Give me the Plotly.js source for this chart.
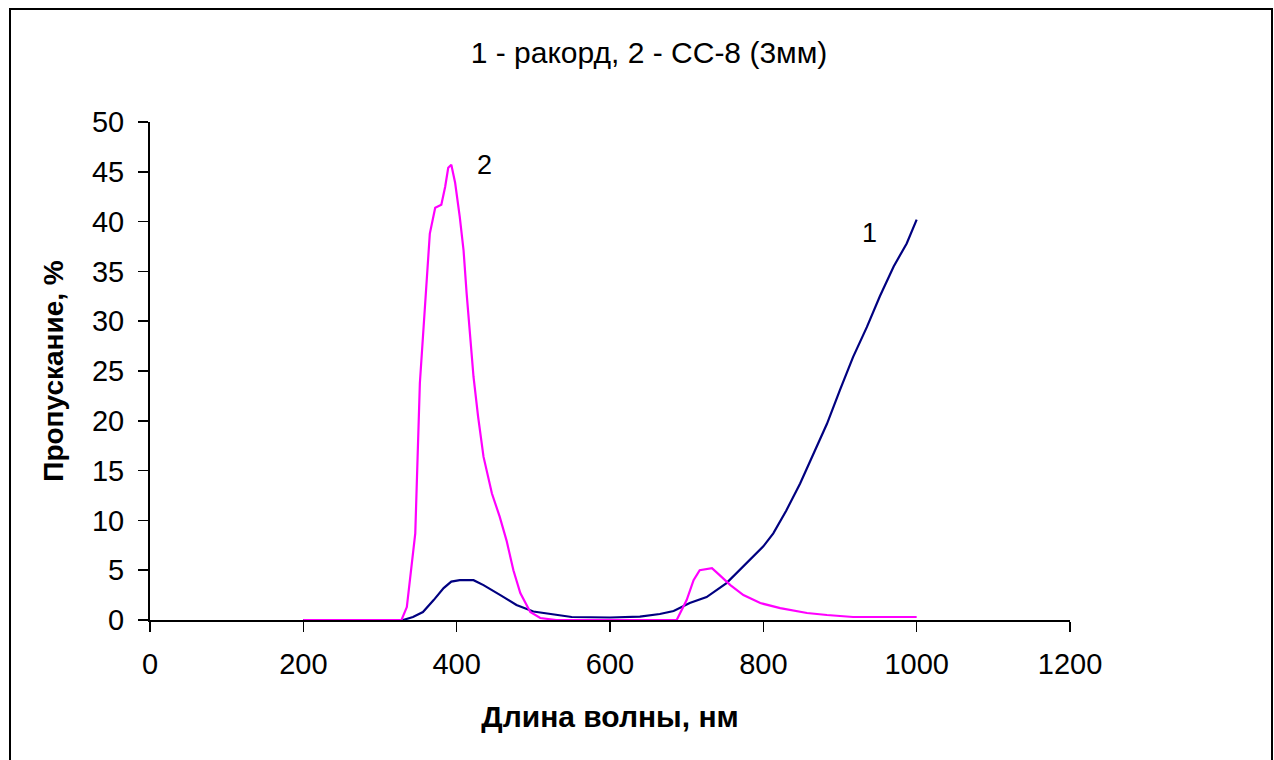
<!DOCTYPE html>
<html>
<head>
<meta charset="utf-8">
<script src="https://cdn.plot.ly/plotly-3.0.1.min.js"></script>
<style>html,body{margin:0;padding:0;background:#fff;}#chart{width:1274px;height:760px;}</style>
</head>
<body>
<div id="chart"></div>
<script>
// Series 1 — "ракорд"
const wl1 = [200, 330, 343, 356, 370, 383, 393, 404, 422, 435, 457, 478, 500, 522, 550, 600, 639, 665, 683, 704, 726, 752, 778, 800, 813, 830, 848, 865, 883, 900, 917, 935, 952, 970, 987, 1000];
const t1  = [0, 0, 0.3, 0.8, 2.0, 3.2, 3.85, 4.0, 4.0, 3.5, 2.5, 1.5, 0.85, 0.6, 0.3, 0.25, 0.33, 0.6, 0.9, 1.7, 2.3, 3.7, 5.7, 7.4, 8.7, 11.0, 13.7, 16.7, 19.7, 23.1, 26.4, 29.4, 32.5, 35.5, 37.8, 40.2];
// Series 2 — "СС-8 (3мм)"
const wl2 = [200, 328, 335, 346, 352, 359, 365, 372, 380, 385, 389, 393, 398, 404, 409, 413, 417, 422, 428, 435, 446, 456, 465, 474, 483, 496, 509, 530, 600, 687, 700, 709, 717, 733, 743, 757, 774, 796, 822, 857, 883, 917, 1000];
const t2  = [0, 0, 1.3, 8.7, 23.8, 32, 38.8, 41.4, 41.7, 43.5, 45.4, 45.7, 43.9, 40.5, 37.1, 32.8, 28.8, 24.4, 20.4, 16.4, 12.7, 10.4, 8.0, 5.0, 2.7, 0.8, 0.2, 0, 0, 0, 2.0, 4.0, 5.0, 5.2, 4.5, 3.5, 2.5, 1.7, 1.2, 0.7, 0.5, 0.3, 0.3];
// Curve labels
const labelText = ["1", "2"];
const labelX = [939, 436];
const labelY = [38.9, 45.7];
// Axis ticks
const xTicks = [0, 200, 400, 600, 800, 1000, 1200];
const yTicks = [0, 5, 10, 15, 20, 25, 30, 35, 40, 45, 50];

const font = "Liberation Sans, Arial, sans-serif";

const traces = [
  {x: wl1, y: t1, type: "scatter", mode: "lines", line: {color: "#000080", width: 2.2}, name: "1"},
  {x: wl2, y: t2, type: "scatter", mode: "lines", line: {color: "#FF00FF", width: 2.2}, name: "2"}
];

const annotations = labelText.map((t, i) => ({
  x: labelX[i], y: labelY[i], xref: "x", yref: "y", text: t, showarrow: false,
  font: {family: font, size: 27, color: "#000"}
}));

const layout = {
  width: 1274, height: 760,
  margin: {l: 150, r: 204, t: 122, b: 140},
  paper_bgcolor: "#fff", plot_bgcolor: "#fff",
  showlegend: false,
  font: {family: font, size: 29, color: "#000"},
  title: {text: "1 - ракорд, 2 - СС-8 (3мм)", font: {family: font, size: 30, color: "#000"}, x: 649 / 1274, xref: "container", xanchor: "center", y: 1 - 52/760, yanchor: "middle"},
  xaxis: {
    range: [0, 1200], tickvals: xTicks, ticktext: xTicks.map(String),
    showline: true, linecolor: "#000", linewidth: 2, mirror: false,
    ticks: "outside", ticklen: 10, tickwidth: 1.5, tickcolor: "#000",
    showgrid: false, zeroline: false,
    tickfont: {family: font, size: 29, color: "#000"},
    ticklabelstandoff: 7,
    title: {text: "<b>Длина волны, нм</b>", font: {family: font, size: 30, color: "#000"}, standoff: 27}
  },
  yaxis: {
    range: [0, 50], tickvals: yTicks, ticktext: yTicks.map(String),
    showline: true, linecolor: "#000", linewidth: 2,
    ticks: "outside", ticklen: 10, tickwidth: 1.5, tickcolor: "#000",
    showgrid: false, zeroline: false,
    tickfont: {family: font, size: 29, color: "#000"},
    ticklabelstandoff: 8,
    title: {text: "<b>Пропускание, %</b>", font: {family: font, size: 28, color: "#000"}, standoff: 20}
  },
  annotations: annotations,
  shapes: [{
    type: "rect", xref: "paper", yref: "paper",
    x0: (10 - 150) / 920, x1: (1272 - 150) / 920,
    y0: (620 - 780) / 498, y1: (620 - 9) / 498,
    line: {color: "#000", width: 2}, fillcolor: "rgba(0,0,0,0)", layer: "below"
  }]
};

Plotly.newPlot("chart", traces, layout, {displayModeBar: false, staticPlot: true});
</script>
</body>
</html>
